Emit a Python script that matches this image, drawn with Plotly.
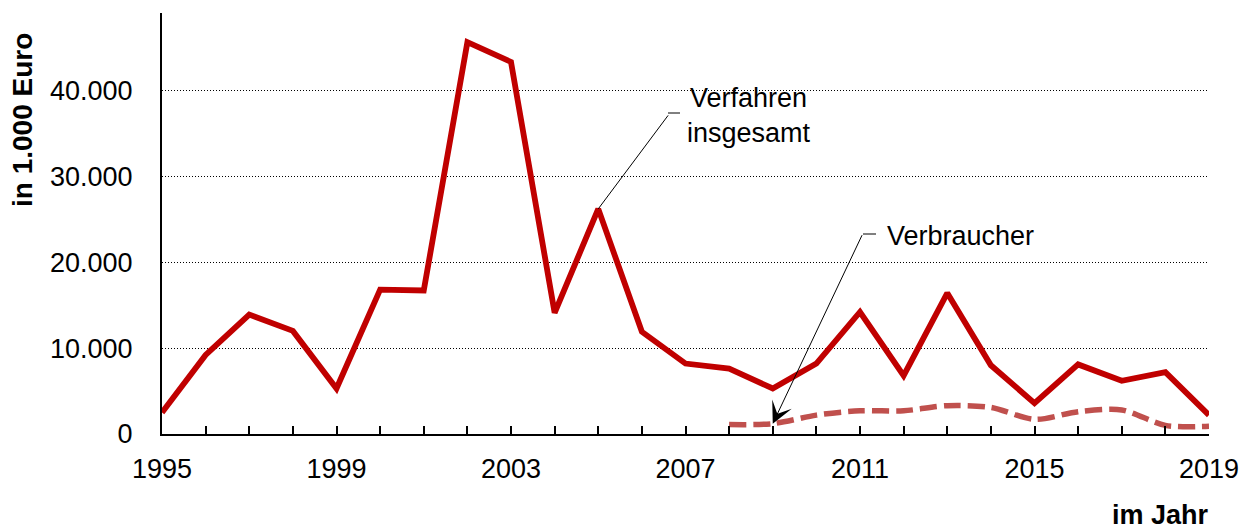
import plotly.graph_objects as go

years = list(range(1995, 2020))
verfahren = [2500, 9200, 13900, 12000, 5300, 16800, 16700, 45600, 43300, 14100,
             26200, 11900, 8200, 7600, 5300, 8200, 14200, 6800, 16400, 8000,
             3600, 8100, 6200, 7200, 2200]
verb_years = list(range(2008, 2020))
verbraucher = [1100, 1200, 2200, 2700, 2700, 3300, 3100, 1700, 2600, 2800, 1000, 900]
y_ticks = [0, 10000, 20000, 30000, 40000]
x_labels = [str(y) if (y - 1995) % 4 == 0 else "" for y in years]

FONT = "Liberation Sans, Arial, sans-serif"
OFF = 8  # default page body margin
PAGE_W, PAGE_H = 1252, 529
PL, PR, PT, PB = 162, 1209, 13, 434  # plot area in page pixels
W, H = PAGE_W - OFF, PAGE_H - OFF
L, R, T, B = PL - OFF, PAGE_W - PR, PT - OFF, PAGE_H - PB
PW, PH = PR - PL, PB - PT


def xp(px):
    return (px - PL) / PW


def yp(py):
    return (PB - py) / PH


fig = go.Figure()
fig.add_trace(go.Scatter(x=years, y=verfahren, mode="lines",
                         line=dict(color="#C00000", width=5.8), name="Verfahren insgesamt"))
fig.add_trace(go.Scatter(x=verb_years, y=verbraucher, mode="lines",
                         line=dict(color="#C0504D", width=5.5, dash="17px,7px", shape="spline",
                                   smoothing=0.8), name="Verbraucher"))

i05 = years.index(2005)
i09 = verb_years.index(2009)
annotations = [
    dict(x=years[i05], y=verfahren[i05], xref="x", yref="y", text="", showarrow=True,
         arrowhead=0, arrowwidth=1, arrowcolor="black", ax=71, ay=-95, standoff=0),
    dict(x=verb_years[i09], y=verbraucher[i09], xref="x", yref="y", text="", showarrow=True,
         arrowhead=3, arrowsize=3.6, arrowwidth=1, arrowcolor="black", ax=90, ay=-190, standoff=0),
    dict(x=xp(749), y=yp(115), xref="paper", yref="paper", text="Verfahren<br>insgesamt",
         showarrow=False, font=dict(size=27, color="black", family=FONT), align="center",
         xanchor="center", yanchor="middle"),
    dict(x=xp(885), y=yp(236), xref="paper", yref="paper", text="Verbraucher",
         showarrow=False, font=dict(size=27, color="black", family=FONT),
         xanchor="left", yanchor="middle"),
    dict(x=xp(23), y=yp(120), xref="paper", yref="paper", text="in 1.000 Euro",
         showarrow=False, textangle=-90, font=dict(size=28, color="black", family=FONT, weight="bold"),
         xanchor="center", yanchor="middle"),
    dict(x=xp(1160), y=yp(515), xref="paper", yref="paper", text="im Jahr",
         showarrow=False, font=dict(size=27, color="black", family=FONT, weight="bold"),
         xanchor="center", yanchor="middle"),
]

shapes = [
    dict(type="line", xref="paper", yref="paper", x0=xp(668), x1=xp(680), y0=yp(113), y1=yp(113),
         line=dict(color="black", width=1)),
    dict(type="line", xref="paper", yref="paper", x0=xp(863), x1=xp(876), y0=yp(234), y1=yp(234),
         line=dict(color="black", width=1)),
]

fig.update_layout(
    width=W, height=H,
    margin=dict(l=L, r=R, t=T, b=B, pad=0),
    paper_bgcolor="white", plot_bgcolor="white",
    showlegend=False,
    separators=",.",
    font=dict(family=FONT, size=27, color="black"),
    annotations=annotations, shapes=shapes,
)
fig.update_xaxes(range=[1995, 2019], tickvals=years, ticktext=x_labels,
                 ticks="inside", ticklen=8, tickwidth=1.5, tickcolor="black",
                 showline=True, linecolor="black", linewidth=2, showgrid=False, zeroline=False,
                 ticklabelstandoff=10, tickfont=dict(size=27, family=FONT))
fig.update_yaxes(range=[0, 49000], tickvals=y_ticks, tickformat=",d",
                 ticks="", showline=True, linecolor="black", linewidth=2,
                 showgrid=True, gridcolor="black", gridwidth=1, griddash="1px,2px",
                 zeroline=False, ticklabelstandoff=22, tickfont=dict(size=27, family=FONT))

fig.write_html("out.html")
